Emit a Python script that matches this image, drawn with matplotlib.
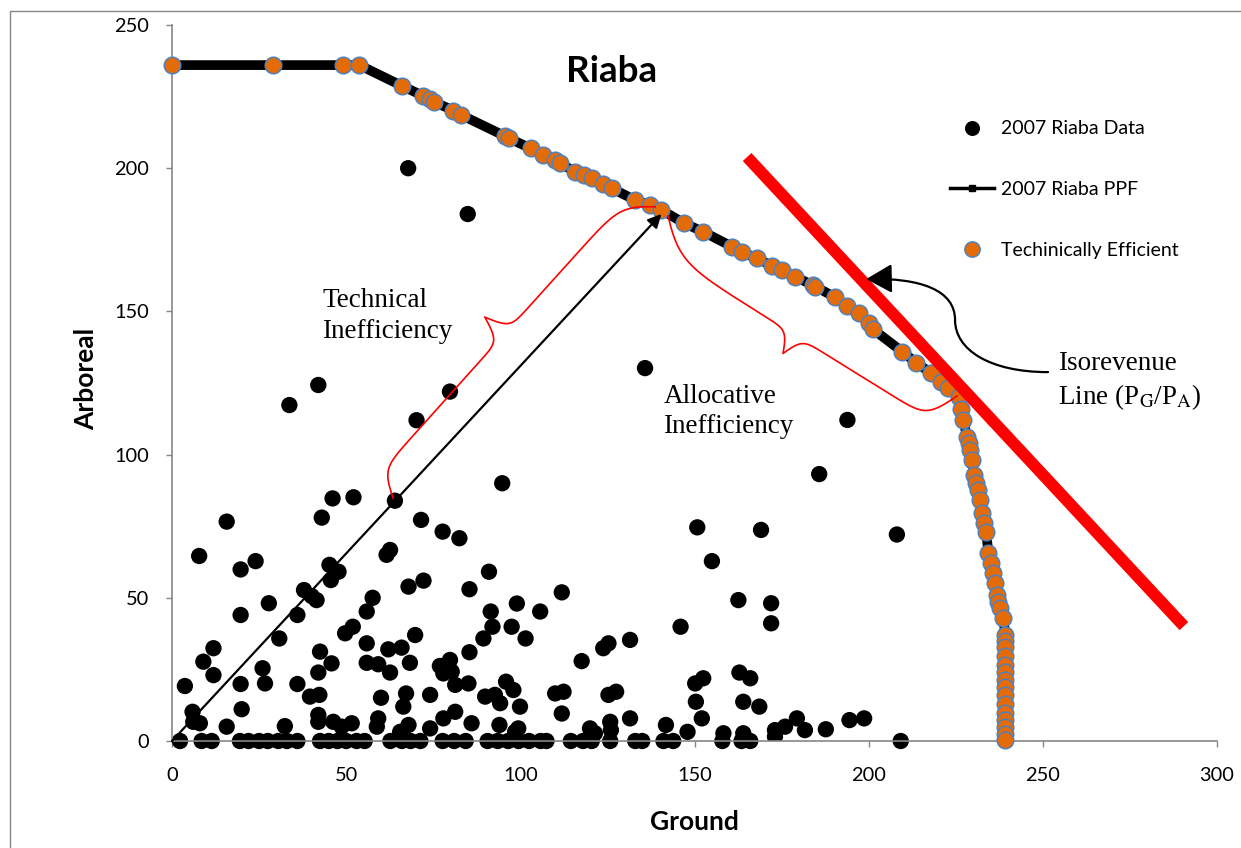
import numpy as np
import matplotlib
matplotlib.use("Agg")
import matplotlib.pyplot as plt
from matplotlib.lines import Line2D
from matplotlib.patches import FancyArrowPatch, Rectangle
from matplotlib.path import Path

plt.rcParams['font.family'] = ['Lato', 'DejaVu Sans']
plt.rcParams['mathtext.fontset'] = 'stix'

# 2007 Riaba farm observations (ground vs arboreal output)
data_ground = [67.8, 84.9, 42.0, 33.7, 70.2, 79.8, 94.8, 135.8, 193.9, 185.8, 208.1, 150.8, 169.1, 155.0, 162.6, 172.0, 172.0, 146.0,
               64.0, 46.1, 52.1, 43.0, 15.7, 7.8, 19.7, 24.0, 62.6, 61.6, 71.5, 45.2, 47.8, 45.6, 37.9, 41.5, 40.1, 19.7, 27.8, 36.0,
               57.6, 55.9, 67.9, 72.2, 49.7, 51.9, 30.8, 11.9, 9.0, 11.9, 3.7, 26.0, 26.7, 19.7, 36.0, 42.5, 45.8, 42.0, 39.6, 42.3,
               20.0, 55.9, 62.1, 65.9, 59.2, 62.6, 55.9, 68.3, 69.8, 60.0, 67.2, 66.4, 5.9, 8.0, 6.1, 15.7, 32.4, 42.0, 42.0, 46.3,
               51.6, 48.7, 59.2, 58.8, 67.9, 65.5,
               77.7, 82.5, 91.0, 85.4, 111.9, 99.0, 105.7, 91.5, 92.0, 89.4, 97.5, 101.5, 85.4, 76.9, 79.8, 80.3, 77.9, 81.3, 85.1,
               74.1, 89.9, 92.7, 94.2, 95.9, 98.0, 99.9, 110.0, 112.4, 111.9, 117.6, 123.8, 125.3, 131.5, 125.3, 127.5, 131.5, 125.8,
               126.0, 120.0, 77.9, 81.3, 86.0, 74.1, 94.0, 99.4, 98.5, 121.4,
               150.2, 152.5, 150.4, 152.1, 162.9, 166.0, 164.0, 168.6, 141.8, 148.0, 158.3, 164.0, 173.1, 173.1, 176.0, 179.4, 181.7,
               187.7, 194.5, 198.7]
data_arboreal = [200.0, 184.0, 124.3, 117.3, 112.0, 122.0, 90.0, 130.2, 112.1, 93.2, 72.1, 74.6, 73.7, 62.8, 49.2, 48.1, 41.1, 39.9,
                 83.9, 84.7, 85.1, 78.0, 76.6, 64.6, 59.9, 62.8, 66.7, 65.0, 77.2, 61.5, 59.1, 56.2, 52.7, 49.2, 50.6, 44.0, 48.1, 44.0,
                 50.0, 45.2, 53.9, 56.0, 37.6, 39.9, 35.8, 32.4, 27.7, 23.0, 19.2, 25.4, 20.1, 19.9, 19.9, 31.2, 27.1, 23.9, 15.5, 16.1,
                 11.1, 34.1, 32.0, 32.6, 26.8, 23.9, 27.3, 27.3, 37.0, 15.1, 16.6, 12.0, 10.2, 6.2, 6.7, 5.0, 5.2, 9.1, 6.7, 6.7,
                 6.2, 5.0, 7.9, 5.0, 5.6, 3.2,
                 73.1, 70.8, 59.1, 53.0, 51.9, 48.0, 45.2, 45.2, 39.9, 35.8, 39.9, 35.8, 31.0, 26.2, 28.3, 24.2, 23.6, 19.6, 20.1,
                 16.1, 15.5, 16.1, 13.2, 20.7, 17.8, 12.0, 16.6, 17.2, 9.6, 27.9, 32.4, 34.1, 35.3, 16.1, 17.2, 7.9, 6.7,
                 3.8, 4.4, 7.9, 10.2, 6.2, 4.4, 5.6, 4.4, 3.2, 2.7,
                 20.1, 21.9, 13.7, 7.9, 23.9, 21.9, 13.7, 12.0, 5.6, 3.2, 2.7, 2.7, 3.8, 1.5, 5.0, 7.9, 3.8,
                 4.1, 7.3, 7.9]

# farms with no arboreal output
zero_ground = [2.3, 8.5, 11.4, 19.5, 22.0, 25.0, 27.5, 30.5, 33.0, 36.0, 42.5, 45.0, 47.5, 50.0, 53.0, 55.3, 62.7, 66.0,
               68.5, 71.3, 77.7, 81.0, 84.3, 90.6, 93.5, 96.5, 99.5, 102.5, 105.8, 107.5, 114.5, 118.0, 120.5, 125.8, 133.0,
               135.0, 141.1, 143.9, 158.0, 163.5, 166.0, 209.2]

# technically efficient farms (they also trace the PPF)
eff_ground = [0.0, 29.1, 49.0, 53.8, 65.9, 72.2, 74.1, 75.2, 80.8, 83.0, 95.6, 96.8, 103.0, 106.6, 110.0, 111.4, 115.7,
              118.3, 120.5, 123.7, 126.2, 132.9, 137.1, 140.4, 147.0, 152.5, 160.8, 163.5, 167.9, 172.3, 175.1, 178.9,
              183.9, 184.7, 190.2, 193.8, 197.1, 200.0, 201.3, 209.7, 213.6, 218.0, 220.7, 222.9, 226.0, 226.6, 227.2,
              228.2, 228.7, 229.1, 229.6, 230.3, 230.8, 231.5, 232.0, 232.5, 233.0, 233.7, 234.4, 235.0, 235.6, 236.3,
              236.8, 237.2, 237.7, 238.7] + [239.2] * 15
eff_arboreal = [236.0, 236.0, 236.0, 236.0, 228.8, 225.2, 224.2, 223.2, 220.1, 218.6, 211.2, 210.4, 206.9, 204.6, 202.9,
                201.7, 198.8, 197.6, 196.5, 194.5, 193.0, 188.9, 187.2, 185.5, 180.8, 177.8, 172.6, 170.8, 168.5, 165.9,
                164.5, 162.1, 159.2, 158.6, 155.1, 152.0, 149.3, 145.8, 143.7, 135.9, 132.1, 128.4, 125.5, 123.1, 120.2,
                116.0, 112.1, 106.3, 104.0, 101.6, 98.1, 92.9, 90.0, 87.6, 84.1, 79.5, 76.0, 73.1, 65.5, 62.0, 58.5, 55.0,
                51.0, 48.5, 46.3, 42.8, 37.0, 35.0, 32.9, 29.7, 26.5, 24.0, 21.3, 18.7, 16.1, 13.0, 9.7, 7.3, 5.0, 2.6, 0.3]

# isorevenue line end points
iso_ground = [165.1, 290.5]
iso_arboreal = [203.9, 40.1]

ORANGE = '#E36C09'
BLUE_EDGE = '#4F81BD'
GREY = '#868686'


def draw_brace(ax, p0, p1, arm, tip, r0, r1, side=1, **kw):
    # curly brace between two data points, sizes given in pixels
    tr = ax.transData
    a = tr.transform(p0)
    b = tr.transform(p1)
    d = b - a
    L = np.hypot(*d)
    u = d / L
    n = side * np.array([-u[1], u[0]])
    t = np.linspace(0, L, 401)
    s = arm * np.tanh(t / r0) * np.tanh((L - t) / r1)
    s = s + 2 * tip / (1 + np.exp(np.abs(t - L / 2) / 4.5))
    pts = a + np.outer(t, u) + np.outer(s, n)
    xy = tr.inverted().transform(pts)
    ax.plot(xy[:, 0], xy[:, 1], **kw)


fig = plt.figure(figsize=(12.41, 8.48), dpi=100)
ax = fig.add_axes([172 / 1241, 1 - 741 / 848, 1045 / 1241, 716 / 848])
ax.set_xlim(0, 300)
ax.set_ylim(0, 250)

# outer chart border (only left/top visible in the crop)
fig.patches.append(Rectangle((10 / 1241, -0.1), 1.2, 1.1 - 11 / 848, transform=fig.transFigure,
                             fill=False, edgecolor=GREY, lw=1.0))

ax.scatter(data_ground, data_arboreal, s=138, c='black', edgecolors='none', zorder=2)
ax.scatter(zero_ground, np.zeros(len(zero_ground)), s=138, c='black', edgecolors='none', zorder=2, clip_on=False)

ax.plot(eff_ground, eff_arboreal, color='black', lw=7, solid_joinstyle='round', zorder=3, clip_on=False)
ax.scatter(eff_ground, eff_arboreal, s=142, c=ORANGE, edgecolors=BLUE_EDGE, linewidths=1.1, zorder=4, clip_on=False)

ax.plot(iso_ground, iso_arboreal, color='red', lw=8.5, solid_capstyle='butt', zorder=5)

# technical inefficiency ray
ax.annotate('', xy=(140.5, 184.0), xytext=(0, 0),
            arrowprops=dict(arrowstyle='-|>', color='black', lw=1.6, mutation_scale=20,
                            shrinkA=0, shrinkB=0), zorder=6)

draw_brace(ax, (63.5, 84.8), (138.7, 186.5), 27, 26, 15, 23, side=1, color='red', lw=1.2, zorder=6)
draw_brace(ax, (142.4, 183.3), (225.4, 120.5), 34, 22, 35, 15, side=-1, color='red', lw=1.2, zorder=6)

# connector from the isorevenue label to the red line
verts = [(251.5, 128.8), (234.9, 128.8), (224.8, 136.5), (224.8, 147.0),
         (224.8, 157.5), (214.8, 161.7), (199.3, 161.3)]
codes = [Path.MOVETO] + [Path.CURVE4] * 6
conn = FancyArrowPatch(path=Path(verts, codes), arrowstyle='-|>,head_length=0.8,head_width=0.45',
                       mutation_scale=20, color='black', lw=1.6, zorder=6)
ax.add_patch(conn)

serif = dict(family='Liberation Serif', fontsize=19.5, linespacing=1.3, va='top', ha='left')
ax.text(43.1, 158.0, 'Technical\nInefficiency', **serif)
ax.text(141.1, 124.8, 'Allocative\nInefficiency', **serif)
ax.text(254.4, 136.2, 'Isorevenue\nLine (P$_{\\mathrm{G}}$/P$_{\\mathrm{A}}$)', **serif)

ax.text(126.3, 230.2, 'Riaba', fontsize=26.5, fontweight='bold', ha='center', va='baseline')

for side in ['top', 'right']:
    ax.spines[side].set_visible(False)
for side in ['left', 'bottom']:
    ax.spines[side].set_color(GREY)
    ax.spines[side].set_linewidth(1.2)
ax.set_xticks(np.arange(0, 301, 50))
ax.set_yticks(np.arange(0, 251, 50))
ax.tick_params(axis='both', direction='out', length=4.5, width=1.0, color=GREY, labelsize=14.4)
ax.tick_params(axis='y', pad=12)
ax.tick_params(axis='x', pad=14)

ax.set_xlabel('Ground', fontsize=19, fontweight='bold')
ax.xaxis.set_label_coords(0.5, -0.113)
ax.xaxis.label.set_verticalalignment('center')
ax.set_ylabel('Arboreal', fontsize=19, fontweight='bold')
ax.yaxis.set_label_coords(-0.0823, 0.5056)
ax.yaxis.label.set_verticalalignment('center')

handles = [Line2D([], [], ls='none', marker='o', markersize=10.8, color='black', markeredgewidth=0),
           Line2D([], [], color='black', lw=2.5, marker='s', markersize=5),
           Line2D([], [], ls='none', marker='o', markersize=11, markerfacecolor=ORANGE,
                  markeredgecolor=BLUE_EDGE, markeredgewidth=1.1)]
labels = ['2007 Riaba Data', '2007 Riaba PPF', 'Techinically Efficient']
ax.legend(handles, labels, loc='upper left', bbox_to_anchor=(950 / 1241, 1 - 120.5 / 848),
          bbox_transform=fig.transFigure, frameon=False, fontsize=14, labelspacing=2.25,
          handlelength=2.27, handletextpad=0.36, borderpad=0, borderaxespad=0)

fig.savefig('out.png', dpi=100)
